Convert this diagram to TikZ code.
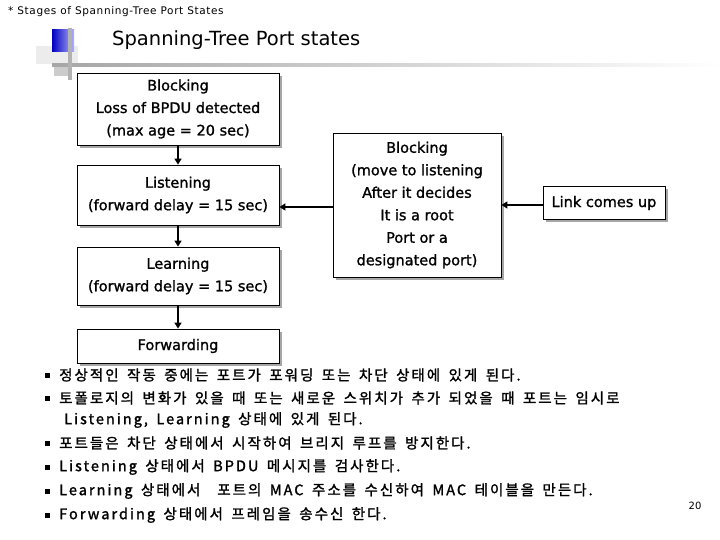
\documentclass[tikz,border=0pt]{standalone}
\usepackage{fontspec}
\setmainfont{DejaVu Sans}
\newfontfamily\kr{Noto Sans CJK KR}[LetterSpace=14,WordSpace=1.6,FakeBold=1.5]
\newfontfamily\bx{DejaVu Sans}[FakeBold=1.2]
\newfontfamily\cp{DejaVu Sans}[LetterSpace=6]
\usetikzlibrary{arrows.meta,shadows}
\begin{document}
\begin{tikzpicture}[x=1pt,y=-1pt,
 box/.style={draw,thick,fill=white,align=center,font=\bx\fontsize{14.5}{22.5}\selectfont,inner sep=0pt,drop shadow={shadow xshift=3pt,shadow yshift=-3pt,fill=gray!70,opacity=1}},
 arr/.style={line width=2pt,-{Triangle[length=6pt,width=7pt]}},
 bul/.style={anchor=west,font=\kr\fontsize{14.5}{14}\selectfont,inner sep=0pt}]
\useasboundingbox (0,0) rectangle (720,540);
% decoration
\fill[gray!15] (36,46) rectangle (78,64);
\shade[left color=blue!75!black,right color=blue!30] (52,30) rectangle (74,52);
\fill[gray!40] (54,67) rectangle (72,76);
\shade[left color=gray!70,right color=white] (52,64) rectangle (720,67);
\fill[gray!60] (68,28) rectangle (72,80);
\node[anchor=west,font=\cp\fontsize{10.5}{10}\selectfont,inner sep=0pt] (cap) at (8,12) {* Stages of Spanning-Tree Port States};
\node[anchor=west,font=\fontsize{19.5}{20}\selectfont,inner sep=0pt] (title) at (112,40) {Spanning-Tree Port states};
% boxes
\node[box,minimum width=202,minimum height=72] (b1) at (178,109) {Blocking\\Loss of BPDU detected\\(max age = 20 sec)};
\node[box,minimum width=202,minimum height=60] (li) at (178,195) {Listening\\(forward delay = 15 sec)};
\node[box,minimum width=202,minimum height=58] (le) at (178,276) {Learning\\(forward delay = 15 sec)};
\node[box,minimum width=202,minimum height=34] (fw) at (178,346) {Forwarding};
\node[box,minimum width=168,minimum height=144] (b2) at (417,205) {Blocking\\(move to listening\\After it decides\\It is a root\\Port or a\\designated port)};
\node[box,minimum width=122,minimum height=33] (lk) at (604,203) {Link comes up};
\draw[arr] (b1) -- (li);
\draw[arr] (li) -- (le);
\draw[arr] (le) -- (fw);
\draw[arr] (b2.west |- 0,207) -- (li.east |- 0,207);
\draw[arr] (lk.west |- 0,205) -- (b2.east |- 0,205);
% bullets
\foreach \y/\t [count=\i] in {375/{정상적인 작동 중에는 포트가 포워딩 또는 차단 상태에 있게 된다.},
 398/{토폴로지의 변화가 있을 때 또는 새로운 스위치가 추가 되었을 때 포트는 임시로},
 443/{포트들은 차단 상태에서 시작하여 브리지 루프를 방지한다.},
 467/{Listening 상태에서 BPDU 메시지를 검사한다.},
 491/{Learning 상태에서 \ 포트의 MAC 주소를 수신하여 MAC 테이블을 만든다.},
 515/{Forwarding 상태에서 프레임을 송수신 한다.}}
 {\node[bul] (bl\i) at (45,\y) {\tikz\fill (0,0) rectangle (5pt,5pt);}; \node[bul] (bt\i) at (59,\y) {\t};}
\node[bul] (bt2b) at (64,420) {Listening, Learning 상태에 있게 된다.};
\node[font=\fontsize{10}{12}\selectfont] (pg) at (695,506) {20};
\end{tikzpicture}
\end{document}
